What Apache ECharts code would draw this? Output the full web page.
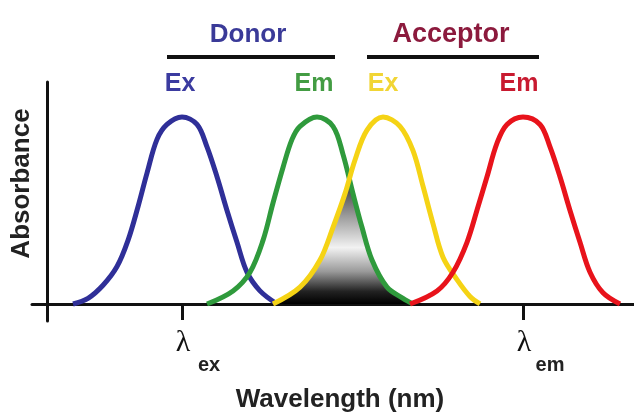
<!DOCTYPE html>
<html>
<head>
<meta charset="utf-8">
<script src="https://cdn.jsdelivr.net/npm/echarts@6/dist/echarts.min.js"></script>
<style>
html,body{margin:0;padding:0;background:#fff;}
#c{width:634px;height:412px;}
</style>
</head>
<body>
<div id="c"></div>
<script>
// x = position along wavelength axis (arbitrary units), y = relative absorbance
var donorEx = [[26,0],[41,0.03],[56,0.10],[70,0.20],[81,0.34],[91,0.52],[100,0.70],[110,0.88],[120,0.96],[135,1.00],[150,0.96],[160,0.84],[170,0.68],[180,0.50],[190,0.33],[200,0.17],[213,0.07],[230,0]];
var donorEm = [[160,0],[186,0.07],[203,0.17],[216,0.34],[226,0.54],[236,0.73],[245,0.88],[253,0.95],[270,1.00],[286,0.95],[296,0.80],[306,0.59],[315,0.41],[325,0.235],[340,0.09],[356,0.03],[366,0]];
var acceptorEx = [[226,0],[253,0.09],[273,0.235],[286,0.41],[298,0.59],[308,0.77],[320,0.93],[336,1.00],[353,0.95],[366,0.82],[376,0.63],[386,0.43],[396,0.25],[410,0.13],[423,0.04],[433,0]];
var acceptorEm = [[363,0],[390,0.07],[406,0.17],[420,0.33],[431,0.52],[440,0.68],[450,0.86],[460,0.96],[476,1.00],[493,0.96],[503,0.84],[513,0.68],[523,0.50],[533,0.33],[543,0.17],[556,0.06],[573,0]];
var overlap = [[226,0],[253,0.09],[273,0.235],[286,0.41],[298,0.59],[302.5,0.67],[306,0.59],[315,0.41],[325,0.235],[340,0.09],[356,0.03],[366,0]];
var tickValues = [135, 476];
var tickNames = ['ex', 'em'];
var groupLabels = ['Donor', 'Acceptor'];
var peakLabels = ['Ex', 'Em', 'Ex', 'Em'];

var chart = echarts.init(document.getElementById('c'), null, {renderer:'canvas'});
var axisColor = '#111';
var bold = 'Liberation Sans, Arial, sans-serif';

function lineSeries(data, color){
  return {type:'line', data:data, smooth:0.35, showSymbol:false, symbol:'none',
    lineStyle:{color:color, width:5}, z:3, silent:true};
}

var option = {
  backgroundColor:'#fff',
  animation:false,
  grid:{left:32, right:0, top:82, bottom:91, containLabel:false, outerBoundsMode:'none'},
  xAxis:{
    type:'value', min:-15, max:587,
    splitLine:{show:false},
    axisLine:{show:true, onZero:true, lineStyle:{color:axisColor, width:3}},
    axisTick:{show:true, customValues:tickValues, length:16, lineStyle:{color:axisColor, width:3}},
    axisLabel:{show:true, customValues:tickValues, margin:7,
      formatter:function(v){ var i = tickValues.indexOf(v); return '{p|}{l|λ}{s|' + tickNames[i] + '}'; },
      rich:{
        p:{width:34},
        l:{fontFamily:'Liberation Serif, DejaVu Serif, serif', fontSize:30, color:'#111', width:18, align:'center', lineHeight:47, verticalAlign:'top'},
        s:{fontFamily:bold, fontWeight:'bold', fontSize:20, color:'#222', width:30, align:'left', padding:[0,0,0,2], verticalAlign:'bottom', lineHeight:20}
      }
    },
    name:'Wavelength (nm)', nameLocation:'middle', nameGap:66,
    nameTextStyle:{fontFamily:bold, fontWeight:'bold', fontSize:26, color:'#222', padding:[0,0,0,14]}
  },
  yAxis:{
    type:'value', min:-0.091, max:1.187,
    splitLine:{show:false},
    axisLine:{show:true, onZero:true, lineStyle:{color:axisColor, width:3}},
    axisTick:{show:false},
    axisLabel:{show:false},
    name:'Absorbance', nameLocation:'middle', nameRotate:90, nameGap:-3,
    nameTextStyle:{fontFamily:bold, fontWeight:'bold', fontSize:26, color:'#222', padding:[0,0,0,36]}
  },
  series:[
    {type:'line', data:overlap, smooth:false, showSymbol:false, symbol:'none', z:1, silent:true,
      lineStyle:{width:0},
      areaStyle:{opacity:1, color:new echarts.graphic.LinearGradient(0,0,0,1,[
        {offset:0, color:'#2e2e2e'},
        {offset:0.3, color:'#9c9c9c'},
        {offset:0.55, color:'#f2f2f2'},
        {offset:0.74, color:'#9a9a9a'},
        {offset:0.9, color:'#222'},
        {offset:1, color:'#000'}
      ])}
    },
    lineSeries(donorEx, '#2f2f98'),
    lineSeries(donorEm, '#2f9a3c'),
    lineSeries(acceptorEx, '#f5d315'),
    lineSeries(acceptorEm, '#e8131b')
  ],
  graphic:[
    {type:'text', x:248, y:35, style:{text:groupLabels[0], fill:'#3a3a98', font:'bold 26px Liberation Sans, Arial, sans-serif', align:'center', verticalAlign:'middle'}},
    {type:'line', shape:{x1:167, y1:57, x2:335, y2:57}, style:{stroke:'#111', lineWidth:4}},
    {type:'text', x:451, y:35, style:{text:groupLabels[1], fill:'#8c1a3d', font:'bold 27px Liberation Sans, Arial, sans-serif', align:'center', verticalAlign:'middle'}},
    {type:'line', shape:{x1:367, y1:57, x2:539, y2:57}, style:{stroke:'#111', lineWidth:4}},
    {type:'text', x:180, y:84, style:{text:peakLabels[0], fill:'#3b3ba0', font:'bold 25px Liberation Sans, Arial, sans-serif', align:'center', verticalAlign:'middle'}},
    {type:'text', x:314, y:84, style:{text:peakLabels[1], fill:'#439c43', font:'bold 25px Liberation Sans, Arial, sans-serif', align:'center', verticalAlign:'middle'}},
    {type:'text', x:383, y:84, style:{text:peakLabels[2], fill:'#f1d535', font:'bold 25px Liberation Sans, Arial, sans-serif', align:'center', verticalAlign:'middle'}},
    {type:'text', x:519, y:84, style:{text:peakLabels[3], fill:'#c81a30', font:'bold 25px Liberation Sans, Arial, sans-serif', align:'center', verticalAlign:'middle'}}
  ]
};
chart.setOption(option);
</script>
</body>
</html>
